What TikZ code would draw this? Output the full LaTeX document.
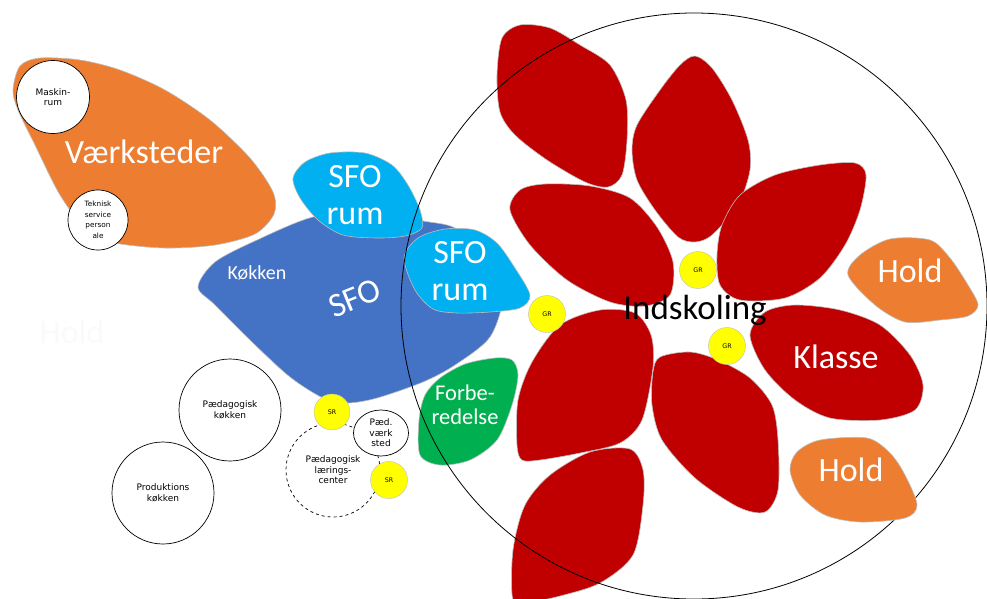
\documentclass[tikz,border=0pt]{standalone}
\usepackage{fontspec}
\setmainfont{Carlito}
\newfontfamily\smallfont{DejaVu Sans}
\usetikzlibrary{shapes.geometric}
\definecolor{colorange}{RGB}{237,125,49}
\definecolor{colblue}{RGB}{68,114,196}
\definecolor{colcyan}{RGB}{0,176,240}
\definecolor{colgreen}{RGB}{0,176,80}
\definecolor{colred}{RGB}{192,0,0}
\definecolor{colyellow}{RGB}{255,255,0}
\definecolor{coledge}{RGB}{190,190,190}
\definecolor{colfaint}{RGB}{250,250,250}
\tikzset{
  % AREAS (freeform blobs)
  blob/.style={
    draw=coledge, line width=0.6pt
  },
  blobOrange/.style={blob, fill=colorange},
  blobBlue/.style={blob, fill=colblue},
  blobCyan/.style={blob, fill=colcyan},
  blobGreen/.style={blob, fill=colgreen},
  blobRed/.style={blob, fill=colred},
  % ROOMS
  frameRoom/.style={
    circle,
    draw=black,
    fill=white,
    line width=0.7pt,
    inner sep=0pt,
    align=center,
    font=\smallfont\fontsize{9}{10.5}\selectfont
  },
  % MEETING POINTS
  frameMeet/.style={
    circle,
    draw=coledge,
    fill=colyellow,
    minimum size=37pt,
    inner sep=0pt,
    font=\smallfont\fontsize{6.3}{7}\selectfont
  },
  % TEXTS
  labelBig/.style={
    text=white,
    align=center,
    font=\fontsize{34}{37}\selectfont
  },
  labelMid/.style={
    text=white,
    align=center,
    font=\fontsize{22.5}{24}\selectfont
  },
  % THE BIG RING
  ringBig/.style={
    circle,
    draw=black,
    line width=0.8pt,
    minimum size=586pt,
    inner sep=0pt
  }
}

\begin{document}
\begin{tikzpicture}[x=1pt,y=-1pt]

\useasboundingbox (0,0) rectangle (987,598);

% Vaerksteder
\path [blobOrange] plot [smooth cycle] coordinates {(13,90) (20,66) (40,58) (80,60) (120,70) (165,90) (210,120) (250,158) (273,192) (274,214) (255,234) (215,245) (165,248) (115,243) (88,232) (60,195) (35,145) (18,110)};
\node [labelBig] (vaerksteder) at (144,152) {Værksteder};
\node [frameRoom, minimum size=73pt] (maskinrum) at (53,97) {Maskin-\\rum};
\node [frameRoom, minimum size=60pt, font=\smallfont\fontsize{7.3}{10.5}\selectfont] (teknisk) at (98,220) {Teknisk\\service\\person\\ale};

% faint text on the left
\node [text=colfaint, font=\fontsize{34}{37}\selectfont] (hold_faint) at (72,332) {Hold};

% SFO
\path [blobBlue] plot [smooth cycle] coordinates {(198,287) (215,262) (257,240) (313,217) (370,212) (423,221) (455,228) (490,255) (503,295) (490,337) (455,365) (423,382) (377,398) (347,403) (323,398) (290,377) (252,342) (215,305)};
\node [text=white, font=\fontsize{20}{22}\selectfont] (kokken) at (257,273) {Køkken};
\node [labelBig, rotate=22] (sfo) at (355,298) {SFO};

\path [blobCyan] plot [smooth cycle] coordinates {(293,178) (305,162) (330,153) (365,153) (392,165) (408,185) (420,210) (422,228) (405,236) (377,238) (343,235) (318,220) (300,198)};
\node [labelBig] (sforum_a) at (355,195) {SFO\\rum};

\path [blobCyan] plot [smooth cycle] coordinates {(404,258) (418,238) (445,229) (475,230) (497,243) (515,268) (530,295) (520,308) (490,312) (457,313) (433,309) (415,290)};
\node [labelBig] (sforum_b) at (460,271) {SFO\\rum};

% Forberedelse
\path [blobGreen] plot [smooth cycle] coordinates {(419,420) (425,395) (440,378) (465,364) (495,358) (512,360) (518,375) (512,405) (497,440) (470,460) (440,465) (420,455)};
\node [labelMid] (forberedelse) at (465,405) {Forbe-\\redelse};

% Indskoling classes
\path [blobRed] plot [smooth cycle] coordinates {(497,75) (502,38) (520,25) (550,28) (580,45) (610,65) (626,100) (627,140) (622,175) (608,187) (585,182) (547,160) (515,135) (500,112)};
\path [blobRed] plot [smooth cycle] coordinates {(695,56) (712,68) (732,100) (748,140) (750,170) (738,205) (712,235) (695,242) (678,237) (655,210) (637,180) (632,150) (637,125) (660,90) (680,65)};
\path [blobRed] plot [smooth cycle] coordinates {(717,255) (722,225) (740,195) (775,175) (820,165) (855,163) (866,175) (860,210) (845,245) (820,278) (785,298) (740,300) (720,285)};
\path [blobRed] plot [smooth cycle] coordinates {(510,210) (520,190) (545,184) (590,186) (630,198) (657,227) (673,262) (670,295) (645,306) (610,302) (567,280) (530,245)};
\path [blobRed] plot [smooth cycle] coordinates {(750,335) (765,312) (795,305) (840,310) (880,325) (910,355) (923,385) (915,410) (880,420) (830,418) (795,400) (765,370)};
\path [blobRed] plot [smooth cycle] coordinates {(653,372) (660,357) (690,352) (718,360) (750,378) (772,405) (778,440) (778,490) (765,512) (738,507) (695,478) (662,440) (652,405)};
\path [blobRed] plot [smooth cycle] coordinates {(517,445) (518,400) (532,362) (560,325) (600,310) (635,313) (651,335) (653,367) (642,420) (620,443) (580,453) (540,460) (522,460)};
\path [blobRed] plot [smooth cycle] coordinates {(513,600) (513,550) (525,505) (550,475) (590,452) (630,449) (643,470) (643,505) (633,555) (600,583) (560,596) (530,602)};
\node [labelBig] (klasse) at (836,357) {Klasse};

% GR points
\node [frameMeet] (gr_a) at (698,270) {GR};
\node [frameMeet] (gr_b) at (727,346) {GR};
\node [frameMeet] (gr_c) at (547,314) {GR};

% Kitchens and learning centre
\node [frameRoom, minimum size=102pt] (paedkokken) at (230,410) {Pædagogisk\\køkken};
\node [frameRoom, minimum size=102pt] (prodkokken) at (163,493) {Produktions\\køkken};
\node [frameRoom, dashed, minimum size=94pt] (laering) at (333,470) {Pædagogisk\\lærings-\\center};
\node [frameMeet, minimum size=36pt] (sr_a) at (332,412) {SR};
\node [frameRoom, ellipse, minimum width=55pt, minimum height=46pt] (vaerksted) at (381,433) {Pæd.\\værk\\sted};
\node [frameMeet] (sr_b) at (389,480) {SR};

% Indskoling ring
\node [ringBig] (ring) at (694,306) {};
\node [font=\fontsize{35}{37}\selectfont] (indskoling) at (695,310) {Indskoling};

% Hold
\path [blobOrange] plot [smooth cycle] coordinates {(848,275) (860,255) (890,239) (930,240) (950,258) (968,285) (978,305) (968,316) (940,320) (905,322) (875,305)};
\node [labelBig] (hold_a) at (910,271) {Hold};
\path [blobOrange] plot [smooth cycle] coordinates {(790,470) (797,452) (820,440) (867,438) (890,453) (905,475) (917,505) (905,518) (860,522) (825,515) (800,495)};
\node [labelBig] (hold_b) at (851,470) {Hold};

\end{tikzpicture}
\end{document}
